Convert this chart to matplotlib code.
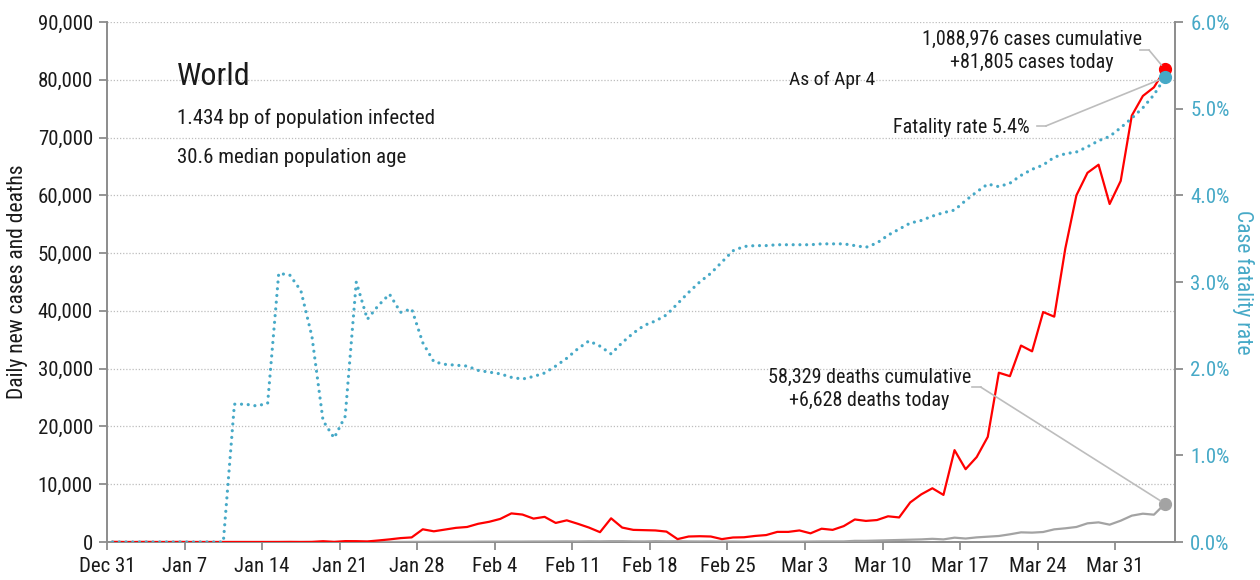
import matplotlib
matplotlib.use("Agg")
import matplotlib.pyplot as plt
import matplotlib.dates as mdates
import matplotlib.ticker as mticker
from matplotlib import font_manager
import numpy as np
import pandas as pd

# pick a narrow face if one is installed, otherwise Roboto
installed = {f.name for f in font_manager.fontManager.ttflist}
FACE = next((f for f in ["Liberation Sans Narrow", "Roboto Condensed", "Roboto"]
             if f in installed), "DejaVu Sans")
SCALE = 1.0 if "Narrow" in FACE or "Condensed" in FACE else 0.87
plt.rcParams["font.family"] = [FACE, "DejaVu Sans"]

# daily series, Dec 31 .. Apr 4
START = "2019-12-31"
new_cases_k = [
    0.027, 0, 0, 0.017, 0, 0, 0.015, 0, 0, 0, 0,
    0.001, 0, 0, 0.001, 0.004, 0.017, 0.004, 0.017, 0.136, 0.019,
    0.151, 0.140, 0.097, 0.266, 0.453, 0.673, 0.797, 2.2, 1.85, 2.15,
    2.45, 2.6, 3.15, 3.5, 4.0, 4.95, 4.75, 4.05, 4.35, 3.3,
    3.75, 3.15, 2.5, 1.7, 4.1, 2.5, 2.1, 2.05, 2.0, 1.8,
    0.5, 0.95, 1.0, 0.95, 0.5, 0.78, 0.82, 1.05, 1.2, 1.75,
    1.75, 2.0, 1.5, 2.3, 2.1, 2.75, 3.9, 3.65, 3.8, 4.45,
    4.25, 6.85, 8.25, 9.3, 8.15, 15.9, 12.6, 14.7, 18.2, 29.3,
    28.7, 34.0, 33.0, 39.8, 39.0, 50.8, 60.0, 63.9, 65.3, 58.5,
    62.5, 73.8, 77.2, 78.7, 81.805,
]
new_deaths_k = [
    0, 0, 0, 0, 0, 0, 0, 0, 0, 0, 0,
    0.001, 0, 0, 0, 0, 0, 0, 0, 0.001, 0.003,
    0.003, 0.009, 0.001, 0.008, 0.016, 0.014, 0.026, 0.026, 0.038, 0.043,
    0.046, 0.045, 0.057, 0.064, 0.066, 0.073, 0.073, 0.086, 0.089, 0.097,
    0.108, 0.097, 0.12, 0.11, 0.14, 0.14, 0.106, 0.098, 0.139, 0.115,
    0.125, 0.1, 0.09, 0.1, 0.07, 0.08, 0.06, 0.06, 0.07, 0.06,
    0.06, 0.06, 0.08, 0.1, 0.1, 0.1, 0.2, 0.2, 0.25, 0.3,
    0.35, 0.4, 0.45, 0.55, 0.45, 0.75, 0.6, 0.8, 0.92, 1.04,
    1.33, 1.67, 1.62, 1.73, 2.19, 2.37, 2.6, 3.23, 3.4, 3.0,
    3.69, 4.56, 4.9, 4.73, 6.628,
]
fatality_pct = [
    0, 0, 0, 0, 0, 0, 0, 0, 0, 0, 0,
    1.59, 1.59, 1.57, 1.60, 3.10, 3.08, 2.90, 2.37, 1.40, 1.20,
    1.45, 3.00, 2.57, 2.73, 2.86, 2.65, 2.69, 2.30, 2.08, 2.05,
    2.04, 2.03, 1.98, 1.96, 1.94, 1.90, 1.88, 1.91, 1.95, 2.03,
    2.12, 2.23, 2.32, 2.26, 2.17, 2.30, 2.41, 2.50, 2.55, 2.62,
    2.75, 2.88, 3.00, 3.10, 3.23, 3.36, 3.41, 3.42, 3.42, 3.43,
    3.43, 3.43, 3.43, 3.44, 3.44, 3.44, 3.42, 3.40, 3.45, 3.54,
    3.61, 3.68, 3.71, 3.76, 3.80, 3.83, 3.94, 4.04, 4.13, 4.10,
    4.14, 4.23, 4.30, 4.35, 4.44, 4.48, 4.50, 4.56, 4.63, 4.68,
    4.78, 4.89, 5.01, 5.16, 5.36,
]
cum_cases = 1088976
cum_deaths = 58329
region = "World"
info_lines = ["1.434 bp of population infected", "30.6 median population age"]

RED = "#ff0000"
GRAY = "#a3a3a3"
CYAN = "#46a9c7"
AXIS = "#8c8c8c"
LEADER = "#bdbdbd"
INK = "#1a1a1a"

dates = pd.date_range(START, periods=len(new_cases_k), freq="D")
xs = mdates.date2num(dates + pd.Timedelta(hours=12))
cases = np.array(new_cases_k) * 1000
deaths = np.array(new_deaths_k) * 1000
cfr = np.array(fatality_pct)

fig = plt.figure(figsize=(12.6, 5.8), dpi=100)
ax = fig.add_axes([107 / 1260, 38 / 580, 1068 / 1260, 520 / 580])
ax2 = ax.twinx()

ax.plot(xs, deaths, color=GRAY, lw=1.6, zorder=3)
ax.plot(xs, cases, color=RED, lw=1.6, zorder=4)
ax.plot(xs[-1], deaths[-1], "o", color=GRAY, ms=8.5, zorder=5)
ax.plot(xs[-1], cases[-1], "o", color=RED, ms=8.5, zorder=5)

ax2.plot(xs, cfr, color=CYAN, lw=2.3, ls=(0, (0.01, 2.1)),
         dash_capstyle="round", zorder=3)
ax2.plot(xs[-1], cfr[-1], "o", color=CYAN, ms=8.5, zorder=5)

x0 = mdates.date2num(dates[0])
ax.set_xlim(x0, x0 + len(dates) + 0.4)
ax.set_ylim(0, 90000)
ax2.set_ylim(0, 6)

tick_dates = pd.date_range(START, "2020-03-31", freq="7D")
ax.set_xticks(mdates.date2num(tick_dates))
ax.set_xticklabels([f"{d:%b} {d.day}" for d in tick_dates])
ax.yaxis.set_major_locator(mticker.MultipleLocator(10000))
ax.yaxis.set_major_formatter(mticker.FuncFormatter(lambda v, p: f"{v:,.0f}"))
ax2.yaxis.set_major_locator(mticker.MultipleLocator(1))
ax2.yaxis.set_major_formatter(mticker.FuncFormatter(lambda v, p: f"{v:.1f}%"))

ax.grid(axis="y", color="#bdbdbd", ls=(0, (1, 1.5)), lw=0.9)
ax.set_axisbelow(True)

for s in ["top", "right"]:
    ax.spines[s].set_visible(False)
for s in ["top", "left", "bottom"]:
    ax2.spines[s].set_visible(False)
for s in ["left", "bottom"]:
    ax.spines[s].set_color(AXIS)
    ax.spines[s].set_linewidth(1.4)
ax2.spines["right"].set_color(AXIS)
ax2.spines["right"].set_linewidth(1.4)

fs_tick = 15 * SCALE
fs_note = 14.5 * SCALE
ax.tick_params(axis="both", colors=AXIS, labelcolor=INK, labelsize=fs_tick,
               length=6, width=1.3)
ax.tick_params(axis="y", pad=4)
ax.tick_params(axis="x", pad=5)
ax2.tick_params(axis="y", colors=AXIS, labelcolor=CYAN, labelsize=fs_tick,
                length=6, width=1.3, pad=5)

fig.text(18 / 1260, 1 - 282 / 580, "Daily new cases and deaths", rotation=90,
         ha="center", va="center", fontsize=15.5 * SCALE, color=INK)
fig.text(1243 / 1260, 1 - 282 / 580, "Case fatality rate", rotation=270,
         ha="center", va="center", fontsize=15.5 * SCALE, color=CYAN)

ax2.text(0.0655, 0.896, region, transform=ax2.transAxes, fontsize=23 * SCALE,
         ha="left", va="center", color=INK)
ax2.text(0.0655, 0.815, info_lines[0], transform=ax2.transAxes,
         fontsize=15 * SCALE, ha="left", va="center", color=INK)
ax2.text(0.0655, 0.740, info_lines[1], transform=ax2.transAxes,
         fontsize=15 * SCALE, ha="left", va="center", color=INK)
ax2.text(0.679, 0.888, f"As of {dates[-1]:%b} {dates[-1].day}",
         transform=ax2.transAxes, fontsize=14 * SCALE, ha="center",
         va="center", color=INK)

# end-point call-outs
callouts = [
    (f"{cum_cases:,} cases cumulative\n+{round(cases[-1]):,} cases today",
     (0.866, 0.944), "center", (0.967, 0.9757, 0.946), ax, cases[-1]),
    (f"Fatality rate {cfr[-1]:.1f}%",
     (0.864, 0.798), "right", (0.8708, 0.879, 0.800), ax2, cfr[-1]),
    (f"{cum_deaths:,} deaths cumulative\n+{round(deaths[-1]):,} deaths today",
     (0.714, 0.294), "center", (0.810, 0.818, 0.298), ax, deaths[-1]),
]
for label, (tx, ty), ha, (lx0, lx1, ly), src, yv in callouts:
    ax2.text(tx, ty, label, transform=ax2.transAxes, fontsize=fs_note, ha=ha,
             va="center", multialignment="center", color=INK,
             linespacing=1.25)
    ax2.plot([lx0, lx1], [ly, ly], color=LEADER, lw=1.2,
             transform=ax2.transAxes, zorder=2)
    ax2.annotate("", xy=(xs[-1], yv), xycoords=src.transData,
                 xytext=(lx1, ly), textcoords="axes fraction",
                 arrowprops=dict(arrowstyle="-", color=LEADER, lw=1.2,
                                 shrinkA=0, shrinkB=4), zorder=2)

fig.savefig("out.png", dpi=100)
